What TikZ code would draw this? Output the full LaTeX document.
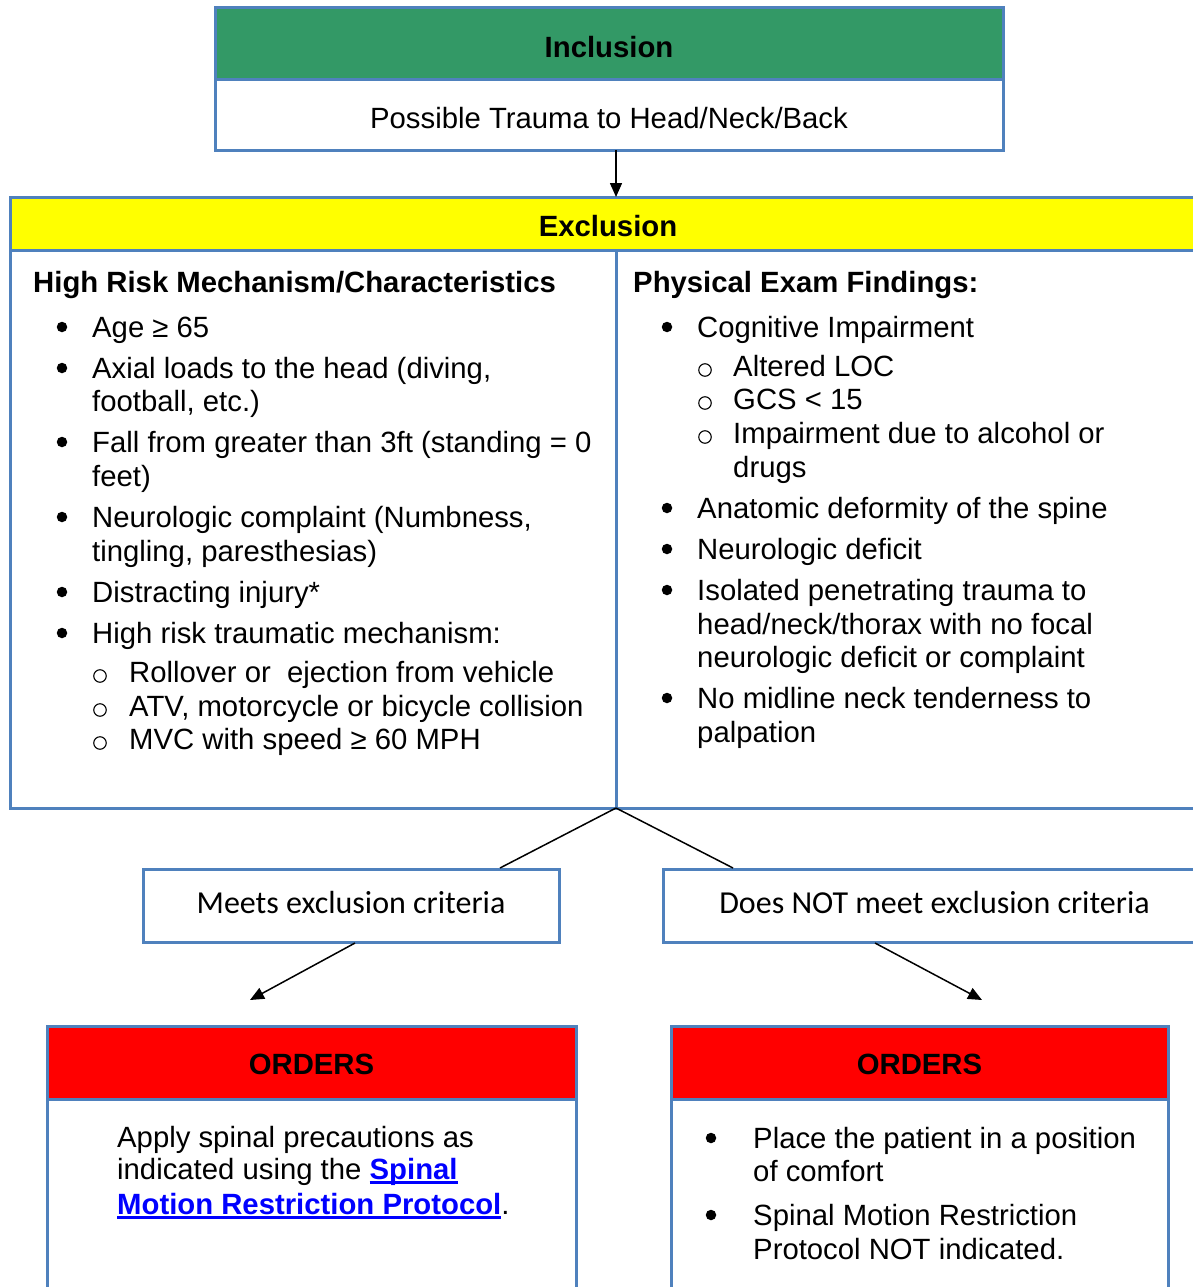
\documentclass[tikz,border=0pt]{standalone}
\usepackage{fontspec}
\setmainfont{Liberation Sans}
\newfontfamily\calib{Carlito}
\usetikzlibrary{arrows.meta}
\definecolor{bblue}{HTML}{4F81BD}
\definecolor{ggreen}{HTML}{339966}
\definecolor{yyellow}{HTML}{FFFF00}
\definecolor{rred}{HTML}{FF0000}
\definecolor{lblue}{HTML}{0000FF}
\newsavebox\lnkbox
\newcommand{\lnk}[1]{\sbox\lnkbox{\color{lblue}\bfseries #1}\rlap{\color{lblue}\rule[-5pt]{\wd\lnkbox}{2.6pt}}\usebox\lnkbox}
\begin{document}
\begin{tikzpicture}[x=1pt,y=-1pt,
 bx/.style={draw=bblue,line width=3pt,inner sep=0pt,outer sep=0pt,anchor=north west},
 hd/.style={inner sep=0pt,font=\fontsize{29.3}{34}\selectfont\bfseries},
 bodyfont/.style={inner sep=0pt,font=\fontsize{29.3}{34}\selectfont},
 txt/.style={anchor=base west,inner sep=0pt,font=\fontsize{29.3}{34}\selectfont},
 txtb/.style={anchor=base west,inner sep=0pt,font=\fontsize{29.3}{34}\selectfont\bfseries},
 dot/.style={circle,fill=black,inner sep=0pt,minimum size=10.5pt},
 ring/.style={circle,draw=black,line width=1.1pt,inner sep=0pt,minimum size=12.5pt},
 crit/.style={inner sep=0pt,font=\calib\fontsize{32}{38}\selectfont},
 conn/.style={line width=1.5pt},
 arr/.style={conn,-{Triangle[length=14pt,width=12pt]}}
]
\useasboundingbox (0,0) rectangle (1193,1287);
\clip (0,0) rectangle (1193,1287);
\fill[white] (0,0) rectangle (1193,1287);

% Inclusion
\node[bx,fill=ggreen,minimum width=788pt,minimum height=72pt] (inch) at (215,8) {};
\node[hd] (inct) at ([yshift=-3pt]inch.center) {Inclusion};
\node[bx,minimum width=788pt,minimum height=70pt] (incb) at (215,80) {};
\node[bodyfont] (incbt) at ([yshift=-3pt]incb.center) {Possible Trauma to Head/Neck/Back};

% Exclusion
\node[bx,fill=yyellow,minimum width=1196pt,minimum height=53pt] (exh) at (10,197) {};
\node[hd] (exht) at ([yshift=-3pt]exh.center) {Exclusion};
\node[bx,minimum width=1196pt,minimum height=558pt] (exb) at (10,250) {};
\coordinate (divtop) at (616,250);
\coordinate (split) at (616,808);
\draw[draw=bblue,line width=3pt] (divtop) -- (split);

\draw[arr] (incb.south -| split) -- (exh.north -| split);

% left column
\node[txtb] (lh) at (33,292) {High Risk Mechanism/Characteristics};
\node[dot] (lb1) at (62,327) {};
\node[txt] (lt1) at (92,337) {Age ≥ 65};
\node[dot] (lb2) at (62,368) {};
\node[txt] (lt2) at (92,378) {Axial loads to the head (diving,};
\node[txt] (lt2b) at (92,411) {football, etc.)};
\node[dot] (lb3) at (62,442) {};
\node[txt] (lt3) at (92,452) {Fall from greater than 3ft (standing = 0};
\node[txt] (lt3b) at (92,486) {feet)};
\node[dot] (lb4) at (62,517) {};
\node[txt] (lt4) at (92,527) {Neurologic complaint (Numbness,};
\node[txt] (lt4b) at (92,561) {tingling, paresthesias)};
\node[dot] (lb5) at (62,592) {};
\node[txt] (lt5) at (92,602) {Distracting injury*};
\node[dot] (lb6) at (62,633) {};
\node[txt] (lt6) at (92,643) {High risk traumatic mechanism:};
\node[ring] (ls1) at (100,676) {};
\node[txt] (lu1) at (129,682) {Rollover or\ \ ejection from vehicle};
\node[ring] (ls2) at (100,710) {};
\node[txt] (lu2) at (129,716) {ATV, motorcycle or bicycle collision};
\node[ring] (ls3) at (100,743) {};
\node[txt] (lu3) at (129,749) {MVC with speed ≥ 60 MPH};

% right column
\node[txtb] (rh) at (633,292) {Physical Exam Findings:};
\node[dot] (rb1) at (667,327) {};
\node[txt] (rt1) at (697,337) {Cognitive Impairment};
\node[ring] (rs1) at (705,370) {};
\node[txt] (ru1) at (733,376) {Altered LOC};
\node[ring] (rs2) at (705,403) {};
\node[txt] (ru2) at (733,409) {GCS < 15};
\node[ring] (rs3) at (705,437) {};
\node[txt] (ru3) at (733,443) {Impairment due to alcohol or};
\node[txt] (ru3b) at (733,477) {drugs};
\node[dot] (rb2) at (667,508) {};
\node[txt] (rt2) at (697,518) {Anatomic deformity of the spine};
\node[dot] (rb3) at (667,549) {};
\node[txt] (rt3) at (697,559) {Neurologic deficit};
\node[dot] (rb4) at (667,590) {};
\node[txt] (rt4) at (697,600) {Isolated penetrating trauma to};
\node[txt] (rt4b) at (697,634) {head/neck/thorax with no focal};
\node[txt] (rt4c) at (697,667) {neurologic deficit or complaint};
\node[dot] (rb5) at (667,698) {};
\node[txt] (rt5) at (697,708) {No midline neck tenderness to};
\node[txt] (rt5b) at (697,742) {palpation};

% criteria boxes
\node[bx,minimum width=416pt,minimum height=73pt] (meets) at (143,869) {};
\node[crit] (meetst) at ([yshift=3pt]meets.center) {Meets exclusion criteria};
\node[bx,minimum width=543pt,minimum height=73pt] (notm) at (663,869) {};
\node[crit] (notmt) at ([yshift=3pt]notm.center) {Does NOT meet exclusion criteria};
\coordinate (ml) at (500,868);
\coordinate (nl) at (733,868);
\draw[conn] (split) -- (ml);
\draw[conn] (split) -- (nl);
\coordinate (ms) at (355,943);
\coordinate (ns) at (875,943);
\coordinate (oa) at (250,1000);
\coordinate (ob) at (982,1000);
\draw[arr] (ms) -- (oa);
\draw[arr] (ns) -- (ob);

% Orders
\node[bx,minimum width=529pt,minimum height=250pt] (o1b) at (47,1099) {};
\node[bx,fill=rred,minimum width=529pt,minimum height=73pt] (o1h) at (47,1026) {};
\node[hd] (o1t) at ([yshift=-2pt]o1h.center) {ORDERS};
\node[bx,minimum width=497pt,minimum height=250pt] (o2b) at (671,1099) {};
\node[bx,fill=rred,minimum width=497pt,minimum height=73pt] (o2h) at (671,1026) {};
\node[hd] (o2t) at ([yshift=-2pt]o2h.center) {ORDERS};

\node[txt] (a1) at (117,1147) {Apply spinal precautions as};
\node[txt] (a2) at (117,1179) {indicated using the \lnk{Spinal}};
\node[txt] (a3) at (117,1214) {\lnk{Motion Restriction Protocol}.};

\node[dot] (pb1) at (711,1138) {};
\node[txt] (p1) at (753,1148) {Place the patient in a position};
\node[txt] (p1b) at (753,1181) {of comfort};
\node[dot] (pb2) at (711,1215) {};
\node[txt] (p2) at (753,1225) {Spinal Motion Restriction};
\node[txt] (p2b) at (753,1259) {Protocol NOT indicated.};
\end{tikzpicture}
\end{document}
